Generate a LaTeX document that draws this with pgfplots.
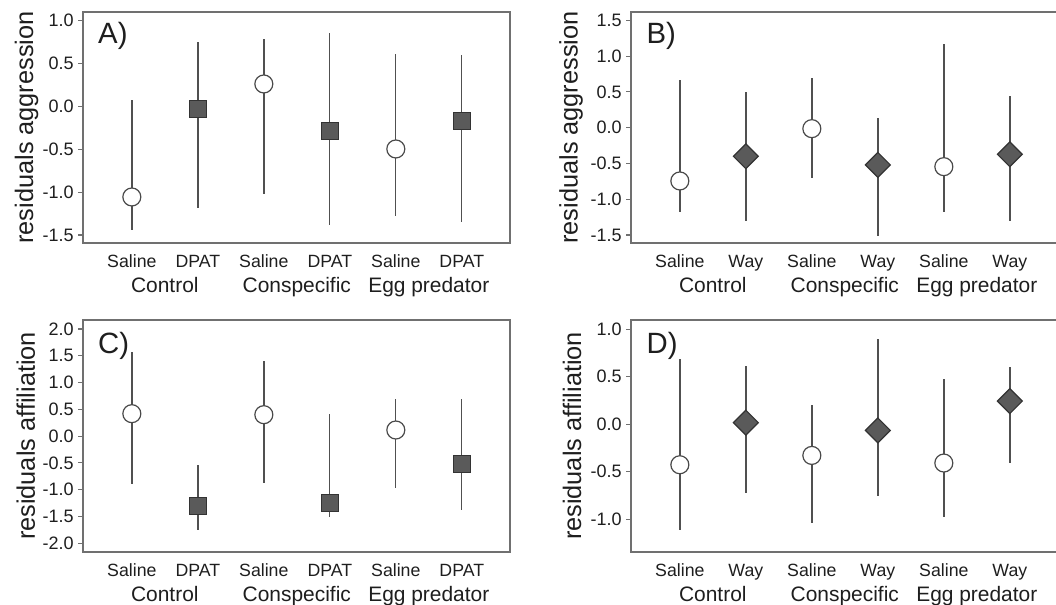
\documentclass[border=0pt]{standalone}
\usepackage{fontspec}
\setmainfont{Liberation Sans}
\usepackage{pgfplots}
\usepackage{pgfplotstable}
\pgfplotsset{compat=1.18}
\definecolor{barc}{HTML}{505050}
\definecolor{sqfill}{HTML}{5A5A5A}
\definecolor{sqedge}{HTML}{333333}
\definecolor{circedge}{HTML}{4A4A4A}
\definecolor{boxc}{HTML}{707070}
\definecolor{txt}{HTML}{1E1E1E}

% Panel A (aggression, DPAT)
\pgfplotstableread{
x y lo hi
1 -1.057 -1.438 0.068
3 0.259 -1.022 0.786
5 -0.498 -1.283 0.608
}\Asal
\pgfplotstableread{
x y lo hi
2 -0.029 -1.186 0.744
4 -0.289 -1.387 0.852
6 -0.168 -1.349 0.592
}\Adrug
% Panel B (aggression, Way)
\pgfplotstableread{
x y lo hi
1 -0.745 -1.183 0.671
3 -0.014 -0.703 0.694
5 -0.545 -1.178 1.174
}\Bsal
\pgfplotstableread{
x y lo hi
2 -0.400 -1.309 0.494
4 -0.521 -1.509 0.140
6 -0.372 -1.299 0.438
}\Bdrug
% Panel C (affiliation, DPAT)
\pgfplotstableread{
x y lo hi
1 0.420 -0.899 1.577
3 0.401 -0.868 1.403
5 0.115 -0.967 0.694
}\Csal
\pgfplotstableread{
x y lo hi
2 -1.310 -1.751 -0.538
4 -1.247 -1.515 0.407
6 -0.526 -1.378 0.694
}\Cdrug
% Panel D (affiliation, Way)
\pgfplotstableread{
x y lo hi
1 -0.426 -1.112 0.681
3 -0.328 -1.042 0.205
5 -0.408 -0.979 0.471
}\Dsal
\pgfplotstableread{
x y lo hi
2 0.016 -0.727 0.615
4 -0.065 -0.751 0.895
6 0.243 -0.412 0.604
}\Ddrug

\pgfplotsset{
 panel/.style={
  scale only axis, width=320.25pt, anchor=south west,
  xmin=0.26, xmax=6.73,
  xtick={1,2,3,4,5,6},
  axis line style={boxc, line width=1.1pt},
  tick align=outside, major tick length=3.5pt,
  xtick style={draw=none},
  ytick style={boxc, line width=0.8pt},
  ytick pos=left, xtick pos=bottom,
  /pgf/number format/assume math mode=true,
  tick label style={font=\fontsize{13.5}{16}\selectfont, text=txt},
  y tick label style={/pgf/number format/fixed, /pgf/number format/fixed zerofill, /pgf/number format/precision=1},
  x tick label style={anchor=base, yshift=-15pt, font=\fontsize{13.3}{16}\selectfont},
  every axis y label/.style={at={(axis description cs:-0.132,0.5)}, rotate=90, anchor=center, font=\fontsize{19}{22}\selectfont, text=txt},
  clip=false,
 },
 wide/.style={width=330pt, xmax=6.927},
 errs/.style={only marks, mark=none, forget plot, error bars/.cd, y dir=both, y explicit, error mark=none, error bar style={line width=1pt, barc, solid}},
 sal/.style={only marks, mark=*, mark size=6.75pt, mark options={fill=white, draw=circedge, line width=0.9pt}},
 sq/.style={only marks, mark=square*, mark size=6.4pt, mark options={fill=sqfill, draw=sqedge, line width=0.9pt}},
 dia/.style={only marks, mark=square*, mark size=6.6pt, mark options={fill=sqfill, draw=sqedge, line width=0.9pt, rotate=45}},
}
\tikzset{
 grp/.style={anchor=base, yshift=-37pt, font=\fontsize{15.7}{18}\selectfont, text=txt},
 lett/.style={anchor=base west, inner sep=0pt, font=\fontsize{22}{24}\selectfont, text=txt},
}

\begin{document}
\begin{tikzpicture}
% ---------- A ----------
\begin{axis}[panel, at={(62.25pt,-182.25pt)}, height=173.25pt,
  ymin=-1.593, ymax=1.097, ytick={-1.5,-1,-0.5,0,0.5,1},
  xticklabels={Saline,DPAT,Saline,DPAT,Saline,DPAT},
  ylabel={residuals aggression}]
\addplot[errs] table[x=x, y=y, y error plus expr=\thisrow{hi}-\thisrow{y}, y error minus expr=\thisrow{y}-\thisrow{lo}] {\Asal};
\addplot[errs] table[x=x, y=y, y error plus expr=\thisrow{hi}-\thisrow{y}, y error minus expr=\thisrow{y}-\thisrow{lo}] {\Adrug};
\addplot[sal] table[x=x,y=y] {\Asal};
\addplot[sq] table[x=x,y=y] {\Adrug};
\node[lett] at (axis description cs:0.035,0.864) {A)};
\node[grp] at ({axis cs:1.5,0}|-{rel axis cs:0,0}) {Control};
\node[grp] at ({axis cs:3.5,0}|-{rel axis cs:0,0}) {Conspecific};
\node[grp] at ({axis cs:5.5,0}|-{rel axis cs:0,0}) {Egg predator};
\end{axis}
% ---------- B ----------
\begin{axis}[panel, wide, at={(473.25pt,-182.25pt)}, height=173.25pt,
  ymin=-1.612, ymax=1.616, ytick={-1.5,-1,-0.5,0,0.5,1,1.5},
  xticklabels={Saline,Way,Saline,Way,Saline,Way},
  every axis y label/.append style={at={(axis description cs:-0.136,0.5)}},
  ylabel={residuals aggression}]
\addplot[errs] table[x=x, y=y, y error plus expr=\thisrow{hi}-\thisrow{y}, y error minus expr=\thisrow{y}-\thisrow{lo}] {\Bsal};
\addplot[errs] table[x=x, y=y, y error plus expr=\thisrow{hi}-\thisrow{y}, y error minus expr=\thisrow{y}-\thisrow{lo}] {\Bdrug};
\addplot[sal] table[x=x,y=y] {\Bsal};
\addplot[dia] table[x=x,y=y] {\Bdrug};
\node[lett] at (axis description cs:0.035,0.864) {B)};
\node[grp] at ({axis cs:1.5,0}|-{rel axis cs:0,0}) {Control};
\node[grp] at ({axis cs:3.5,0}|-{rel axis cs:0,0}) {Conspecific};
\node[grp] at ({axis cs:5.5,0}|-{rel axis cs:0,0}) {Egg predator};
\end{axis}
% ---------- C ----------
\begin{axis}[panel, at={(62.25pt,-414pt)}, height=174pt,
  ymin=-2.162, ymax=2.168, ytick={-2,-1.5,-1,-0.5,0,0.5,1,1.5,2},
  xticklabels={Saline,DPAT,Saline,DPAT,Saline,DPAT},
  every axis y label/.append style={at={(axis description cs:-0.134,0.5)}},
  ylabel={residuals affiliation}]
\addplot[errs] table[x=x, y=y, y error plus expr=\thisrow{hi}-\thisrow{y}, y error minus expr=\thisrow{y}-\thisrow{lo}] {\Csal};
\addplot[errs] table[x=x, y=y, y error plus expr=\thisrow{hi}-\thisrow{y}, y error minus expr=\thisrow{y}-\thisrow{lo}] {\Cdrug};
\addplot[sal] table[x=x,y=y] {\Csal};
\addplot[sq] table[x=x,y=y] {\Cdrug};
\node[lett] at (axis description cs:0.035,0.857) {C)};
\node[grp] at ({axis cs:1.5,0}|-{rel axis cs:0,0}) {Control};
\node[grp] at ({axis cs:3.5,0}|-{rel axis cs:0,0}) {Conspecific};
\node[grp] at ({axis cs:5.5,0}|-{rel axis cs:0,0}) {Egg predator};
\end{axis}
% ---------- D ----------
\begin{axis}[panel, wide, at={(473.25pt,-414pt)}, height=174pt,
  ymin=-1.343, ymax=1.095, ytick={-1,-0.5,0,0.5,1},
  xticklabels={Saline,Way,Saline,Way,Saline,Way},
  every axis y label/.append style={at={(axis description cs:-0.134,0.5)}},
  ylabel={residuals affiliation}]
\addplot[errs] table[x=x, y=y, y error plus expr=\thisrow{hi}-\thisrow{y}, y error minus expr=\thisrow{y}-\thisrow{lo}] {\Dsal};
\addplot[errs] table[x=x, y=y, y error plus expr=\thisrow{hi}-\thisrow{y}, y error minus expr=\thisrow{y}-\thisrow{lo}] {\Ddrug};
\addplot[sal] table[x=x,y=y] {\Dsal};
\addplot[dia] table[x=x,y=y] {\Ddrug};
\node[lett] at (axis description cs:0.035,0.857) {D)};
\node[grp] at ({axis cs:1.5,0}|-{rel axis cs:0,0}) {Control};
\node[grp] at ({axis cs:3.5,0}|-{rel axis cs:0,0}) {Conspecific};
\node[grp] at ({axis cs:5.5,0}|-{rel axis cs:0,0}) {Egg predator};
\end{axis}
\pgfresetboundingbox
\useasboundingbox (0,0) rectangle (792pt,-453pt);
\end{tikzpicture}
\end{document}
